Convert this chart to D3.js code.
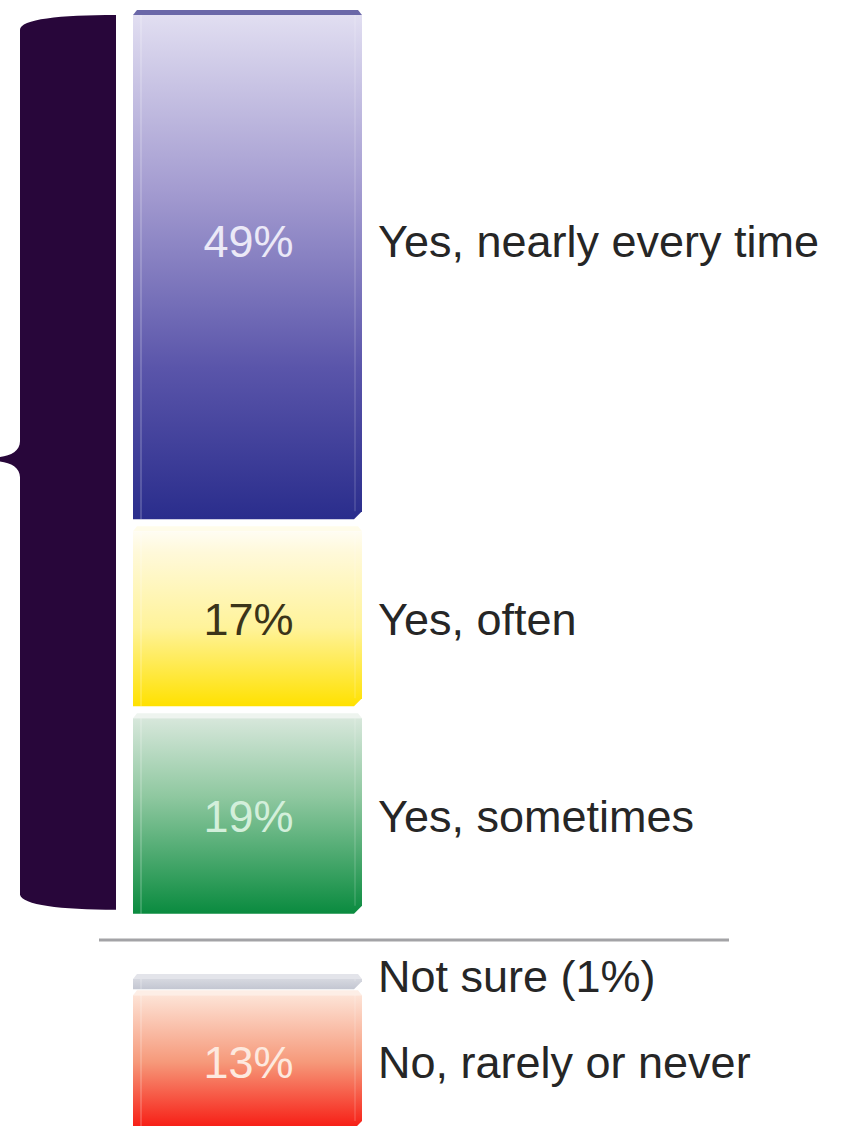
<!DOCTYPE html>
<html>
<head>
<meta charset="utf-8">
<script src="https://cdn.jsdelivr.net/npm/d3@7/dist/d3.min.js"></script>
<style>
  html, body { margin: 0; padding: 0; background: #ffffff; }
  svg { display: block; }
</style>
</head>
<body>
<script>
// Survey answers, stacked into two columns: the "yes" answers on top, the rest below a rule
const categories = ["Yes, nearly every time", "Yes, often", "Yes, sometimes", "Not sure (1%)", "No, rarely or never"];
const values = [49, 17, 19, 1, 13];
const groups = ["yes", "yes", "yes", "other", "other"];
const valueLabels = ["49%", "17%", "19%", "", "13%"];

const W = 846, H = 1126;
const svg = d3.select("body").append("svg").attr("width", W).attr("height", H);
const defs = svg.append("defs");

// vertical scale: percent -> pixels of bar height
const h = d3.scaleLinear().domain([0, 100]).range([0, 1029]);
const barX0 = 133, barX1 = 362, chamfer = 8;
const groupStart = { yes: 15, other: 979 };
const groupGap = { yes: 12, other: 6 };

// gradient colours per bar (top -> bottom)
const gradStops = [
  [[0, "#e1def1"], [0.35, "#a39bd0"], [0.7, "#5a55aa"], [1, "#2a2d8c"]],
  [[0, "#fffdf3"], [0.12, "#fff9da"], [0.55, "#fff39a"], [1, "#ffe100"]],
  [[0, "#d7e7db"], [0.4, "#8fc8a0"], [1, "#0a8b3f"]],
  [[0, "#d6d8e0"], [1, "#c3c6d1"]],
  [[0, "#fde3d6"], [0.5, "#f6997a"], [1, "#f71a12"]]
];
const faceColors = ["#6a67a8", "#fffcea", "#eef4ef", "#e3e4ea", "#fdeee6"];
const valueColors = ["#ebe9f7", "#3b3419", "#d3efdb", "", "#fde9df"];

gradStops.forEach((stops, i) => {
  const g = defs.append("linearGradient").attr("id", "g" + i)
    .attr("x1", 0).attr("y1", 0).attr("x2", 0).attr("y2", 1);
  stops.forEach(s => g.append("stop").attr("offset", s[0]).attr("stop-color", s[1]));
});

// stack positions
const cursor = Object.assign({}, groupStart);
const seen = {};
const bars = categories.map((c, i) => {
  const g = groups[i];
  if (seen[g]) cursor[g] += groupGap[g];
  seen[g] = true;
  const y0 = cursor[g];
  const y1 = y0 + h(values[i]);
  cursor[g] = y1;
  return { cat: c, value: values[i], label: valueLabels[i], i, y0, y1 };
});

// curly bracket grouping the "yes" answers
const yesBars = bars.filter(b => groups[b.i] === "yes");
const bTop = yesBars[0].y0, bBot = yesBars[yesBars.length - 1].y1;
const bMid = (bTop + bBot) / 2 - 5;
const bx0 = 20, bx1 = 116;
svg.append("path")
  .attr("d", `M${bx0},${bTop + 15} C${bx0},${bTop + 4} ${bx0 + 40},${bTop} ${bx1},${bTop}
              L${bx1},${bBot - 4}
              C${bx0 + 40},${bBot - 4} ${bx0 + 2},${bBot - 9} ${bx0},${bBot - 19}
              L${bx0},${bMid + 18}
              C${bx0},${bMid + 8} ${bx0 - 10},${bMid + 3} ${bx0 - 22},${bMid + 2}
              L${bx0 - 22},${bMid - 2}
              C${bx0 - 10},${bMid - 3} ${bx0},${bMid - 8} ${bx0},${bMid - 18} Z`)
  .attr("fill", "#28063a");

// separator rule
svg.append("line")
  .attr("x1", 99).attr("x2", 729).attr("y1", 940).attr("y2", 940)
  .attr("stroke", "#a3a3a6").attr("stroke-width", 3);

const barG = svg.append("g");
bars.forEach(b => {
  const g = barG.append("g");
  // top face of the box
  g.append("path")
    .attr("d", `M${barX0},${b.y0} L${barX0 + 4},${b.y0 - 5} L${barX1 - 4},${b.y0 - 5} L${barX1},${b.y0} Z`)
    .attr("fill", faceColors[b.i]);
  // body with chamfered lower-right corner
  g.append("path")
    .attr("d", `M${barX0},${b.y0} L${barX1},${b.y0} L${barX1},${b.y1 - chamfer} L${barX1 - chamfer},${b.y1} L${barX0},${b.y1} Z`)
    .attr("fill", `url(#g${b.i})`);
  // soft highlight along the left edge
  g.append("line")
    .attr("x1", barX0 + 8).attr("x2", barX0 + 8).attr("y1", b.y0).attr("y2", b.y1)
    .attr("stroke", "#ffffff").attr("stroke-opacity", 0.18).attr("stroke-width", 2);
  g.append("line")
    .attr("x1", barX1 - 7).attr("x2", barX1 - 7).attr("y1", b.y0).attr("y2", b.y1 - chamfer)
    .attr("stroke", "#ffffff").attr("stroke-opacity", 0.12).attr("stroke-width", 2);
});

const font = "'Liberation Sans', Arial, Helvetica, sans-serif";
// label baselines: centred on each bar (the tall first bar sits a little higher)
const lift = d => (d.i === 0 ? 26 : 0);
const baseline = d => (d.y0 + d.y1) / 2 + 16 - lift(d);

svg.append("g").selectAll("text.v")
  .data(bars.filter(b => b.label))
  .join("text")
  .attr("class", "v")
  .attr("x", (barX0 + barX1) / 2 + 1)
  .attr("y", baseline)
  .attr("text-anchor", "middle")
  .attr("font-family", font).attr("font-size", 45)
  .attr("fill", d => valueColors[d.i])
  .text(d => d.label);

svg.append("g").selectAll("text.c")
  .data(bars)
  .join("text")
  .attr("class", "c")
  .attr("x", 378)
  .attr("y", d => d.value < 3 ? d.y1 + 3 : baseline(d))
  .attr("font-family", font).attr("font-size", 45)
  .attr("fill", "#262626")
  .text(d => d.cat);
</script>
</body>
</html>
